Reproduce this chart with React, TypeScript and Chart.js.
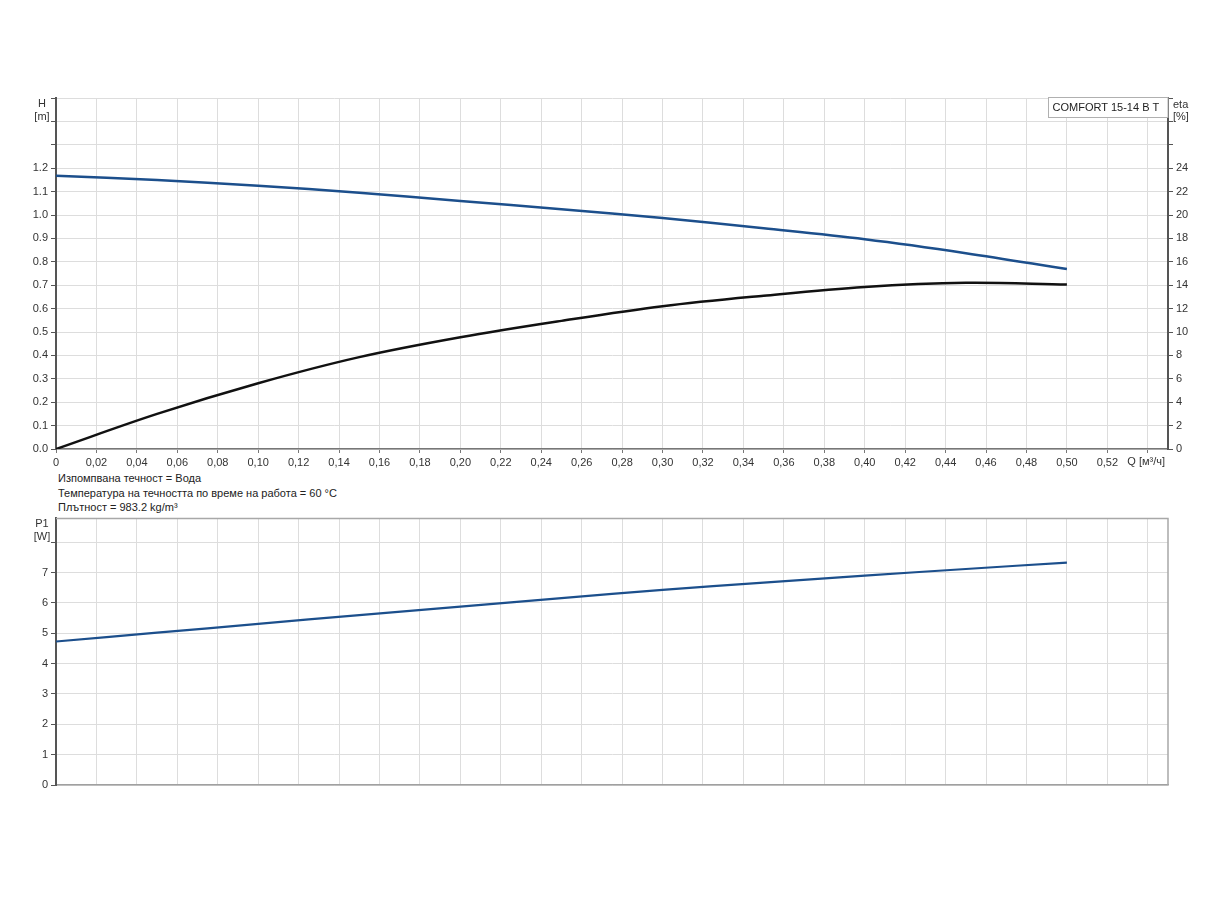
import React, { useEffect, useRef } from "react";
import { Chart, registerables } from "chart.js";

Chart.register(...registerables);

// Flow rate Q [m³/h]
const Q = [0, 0.05, 0.1, 0.15, 0.2, 0.25, 0.3, 0.35, 0.4, 0.45, 0.5];
// Head H [m]
const H = [1.168, 1.15, 1.125, 1.095, 1.06, 1.025, 0.987, 0.943, 0.896, 0.837, 0.769];
// Efficiency eta [%]
const ETA = [0, 3.0, 5.62, 7.85, 9.55, 10.95, 12.2, 13.1, 13.85, 14.2, 14.05];
// Power P1 [W]
const P1 = [4.73, 5.02, 5.31, 5.6, 5.88, 6.16, 6.43, 6.67, 6.9, 7.12, 7.33];

const X_TICKS = [0, 0.02, 0.04, 0.06, 0.08, 0.1, 0.12, 0.14, 0.16, 0.18, 0.2, 0.22, 0.24, 0.26, 0.28, 0.3, 0.32, 0.34, 0.36, 0.38, 0.4, 0.42, 0.44, 0.46, 0.48, 0.5, 0.52, 0.54];
const X_LABELS = ["0", "0,02", "0,04", "0,06", "0,08", "0,10", "0,12", "0,14", "0,16", "0,18", "0,20", "0,22", "0,24", "0,26", "0,28", "0,30", "0,32", "0,34", "0,36", "0,38", "0,40", "0,42", "0,44", "0,46", "0,48", "0,50", "0,52", ""];
const H_TICKS = [0, 0.1, 0.2, 0.3, 0.4, 0.5, 0.6, 0.7, 0.8, 0.9, 1.0, 1.1, 1.2, 1.3, 1.4, 1.5];
const H_LABELS = ["0.0", "0.1", "0.2", "0.3", "0.4", "0.5", "0.6", "0.7", "0.8", "0.9", "1.0", "1.1", "1.2", "", "", ""];
const ETA_TICKS = [0, 2, 4, 6, 8, 10, 12, 14, 16, 18, 20, 22, 24, 26, 28, 30];
const ETA_LABELS = ["0", "2", "4", "6", "8", "10", "12", "14", "16", "18", "20", "22", "24", "", "", ""];
const P_TICKS = [0, 1, 2, 3, 4, 5, 6, 7, 8];
const P_LABELS = ["0", "1", "2", "3", "4", "5", "6", "7", ""];

const PUMP_NAME = "COMFORT 15-14 B T";
const NOTES = [
  "Изпомпвана течност = Вода",
  "Температура на течността по време на работа = 60 °C",
  "Плътност = 983.2 kg/m³",
];

const FONT = "'Liberation Sans', Arial, sans-serif";
const GRID = "#dddddd";
const TICK_COLOR = "#333333";
const BLUE = "#1c4f8c";

function xScale(withLabels: boolean, fitHeight: number) {
  return {
    type: "linear" as const,
    min: 0,
    max: 0.55,
    afterBuildTicks: (s: any) => {
      s.ticks = X_TICKS.map((v) => ({ value: v }));
    },
    afterFit: (s: any) => {
      s.height = fitHeight;
    },
    grid: { color: GRID, lineWidth: 1, tickLength: 4, drawTicks: withLabels, tickColor: "#777" },
    border: { color: withLabels ? "#777" : "#a0a0a0", width: 1.5 },
    ticks: {
      display: withLabels,
      autoSkip: false,
      maxRotation: 0,
      padding: 3,
      color: TICK_COLOR,
      font: { family: FONT, size: 11 },
      callback: (_v: any, i: number) => X_LABELS[i],
    },
  };
}

export default function App() {
  const topRef = useRef<HTMLCanvasElement>(null);
  const botRef = useRef<HTMLCanvasElement>(null);

  useEffect(() => {
    const topPlugin = {
      id: "topDecor",
      afterDraw(chart: any) {
        const ctx = chart.ctx;
        const a = chart.chartArea;
        ctx.save();
        ctx.fillStyle = TICK_COLOR;
        ctx.font = `11px ${FONT}`;
        ctx.textBaseline = "middle";
        ctx.textAlign = "center";
        ctx.fillText("H", 42, 104);
        ctx.fillText("[m]", 42, 117);
        ctx.textAlign = "left";
        ctx.fillText("eta", a.right + 5, 105);
        ctx.fillText("[%]", a.right + 5, 117);
        ctx.textAlign = "right";
        ctx.fillText("Q [м³/ч]", a.right - 3, 462);
        // legend box
        const bx = 1048.5, by = 97.5, bw = a.right - 1048.5, bh = 20;
        ctx.fillStyle = "#ffffff";
        ctx.fillRect(bx, by, bw, bh);
        ctx.strokeStyle = "#b0b0b0";
        ctx.lineWidth = 1;
        ctx.strokeRect(bx, by, bw, bh);
        ctx.fillStyle = "#222";
        ctx.textAlign = "left";
        ctx.fillText(PUMP_NAME, bx + 4, by + bh / 2);
        ctx.restore();
      },
    };

    const top = new Chart(topRef.current!, {
      type: "line",
      data: {
        datasets: [
          {
            label: "H",
            data: Q.map((q, i) => ({ x: q, y: H[i] })),
            borderColor: BLUE,
            borderWidth: 2.5,
            pointRadius: 0,
            tension: 0.35,
            yAxisID: "y",
          },
          {
            label: "eta",
            data: Q.map((q, i) => ({ x: q, y: ETA[i] })),
            borderColor: "#111111",
            borderWidth: 2.5,
            pointRadius: 0,
            tension: 0.35,
            yAxisID: "y1",
          },
        ],
      },
      options: {
        responsive: false,
        animation: false,
        layout: { padding: { top: 98, left: 0, right: 0, bottom: 0 } },
        plugins: { legend: { display: false }, tooltip: { enabled: false } },
        scales: {
          x: xScale(true, 21) as any,
          y: {
            type: "linear",
            position: "left",
            min: 0,
            max: 1.5,
            afterBuildTicks: (s: any) => {
              s.ticks = H_TICKS.map((v) => ({ value: v }));
            },
            afterFit: (s: any) => {
              s.width = 56;
            },
            grid: { color: GRID, tickLength: 5, tickColor: "#555" },
            border: { color: "#555", width: 2 },
            ticks: {
              autoSkip: false,
              padding: 3,
              color: TICK_COLOR,
              font: { family: FONT, size: 11 },
              callback: (_v: any, i: number) => H_LABELS[i],
            },
          },
          y1: {
            type: "linear",
            position: "right",
            min: 0,
            max: 30,
            afterBuildTicks: (s: any) => {
              s.ticks = ETA_TICKS.map((v) => ({ value: v }));
            },
            afterFit: (s: any) => {
              s.width = 56;
            },
            grid: { drawOnChartArea: false, tickLength: 5, tickColor: "#555" },
            border: { color: "#555", width: 2 },
            ticks: {
              autoSkip: false,
              padding: 3,
              color: TICK_COLOR,
              font: { family: FONT, size: 11 },
              callback: (_v: any, i: number) => ETA_LABELS[i],
            },
          },
        },
      },
      plugins: [topPlugin],
    });

    const botPlugin = {
      id: "botDecor",
      beforeDatasetsDraw(chart: any) {
        const ctx = chart.ctx;
        const a = chart.chartArea;
        ctx.save();
        ctx.strokeStyle = "#a8a8a8";
        ctx.lineWidth = 1.5;
        ctx.beginPath();
        ctx.moveTo(a.left, a.top + 0.5);
        ctx.lineTo(a.right, a.top + 0.5);
        ctx.lineTo(a.right, a.bottom);
        ctx.stroke();
        ctx.restore();
      },
      afterDraw(chart: any) {
        const ctx = chart.ctx;
        ctx.save();
        ctx.fillStyle = TICK_COLOR;
        ctx.font = `11px ${FONT}`;
        ctx.textBaseline = "middle";
        ctx.textAlign = "center";
        ctx.fillText("P1", 42, 24);
        ctx.fillText("[W]", 42, 37);
        ctx.restore();
      },
    };

    const bot = new Chart(botRef.current!, {
      type: "line",
      data: {
        datasets: [
          {
            label: "P1",
            data: Q.map((q, i) => ({ x: q, y: P1[i] })),
            borderColor: BLUE,
            borderWidth: 2.2,
            pointRadius: 0,
            tension: 0.35,
          },
        ],
      },
      options: {
        responsive: false,
        animation: false,
        layout: { padding: { top: 18, left: 0, right: 56, bottom: 0 } },
        plugins: { legend: { display: false }, tooltip: { enabled: false } },
        scales: {
          x: xScale(false, 15) as any,
          y: {
            type: "linear",
            position: "left",
            min: 0,
            max: 8.8,
            afterBuildTicks: (s: any) => {
              s.ticks = P_TICKS.map((v) => ({ value: v }));
            },
            afterFit: (s: any) => {
              s.width = 56;
            },
            grid: { color: GRID, tickLength: 5, tickColor: "#555" },
            border: { color: "#555", width: 2 },
            ticks: {
              autoSkip: false,
              padding: 3,
              color: TICK_COLOR,
              font: { family: FONT, size: 11 },
              callback: (_v: any, i: number) => P_LABELS[i],
            },
          },
        },
      },
      plugins: [botPlugin],
    });

    return () => {
      top.destroy();
      bot.destroy();
    };
  }, []);

  return (
    <div style={{ position: "absolute", left: 0, top: 0, width: 1224, height: 900, background: "#fff" }}>
      <canvas ref={topRef} width={1224} height={470} style={{ position: "absolute", left: 0, top: 0 }} />
      <div
        style={{
          position: "absolute",
          left: 58,
          top: 471,
          fontFamily: FONT,
          fontSize: 11,
          lineHeight: "14.5px",
          color: "#222",
        }}
      >
        {NOTES.map((n, i) => (
          <div key={i}>{n}</div>
        ))}
      </div>
      <canvas ref={botRef} width={1224} height={300} style={{ position: "absolute", left: 0, top: 500 }} />
    </div>
  );
}
